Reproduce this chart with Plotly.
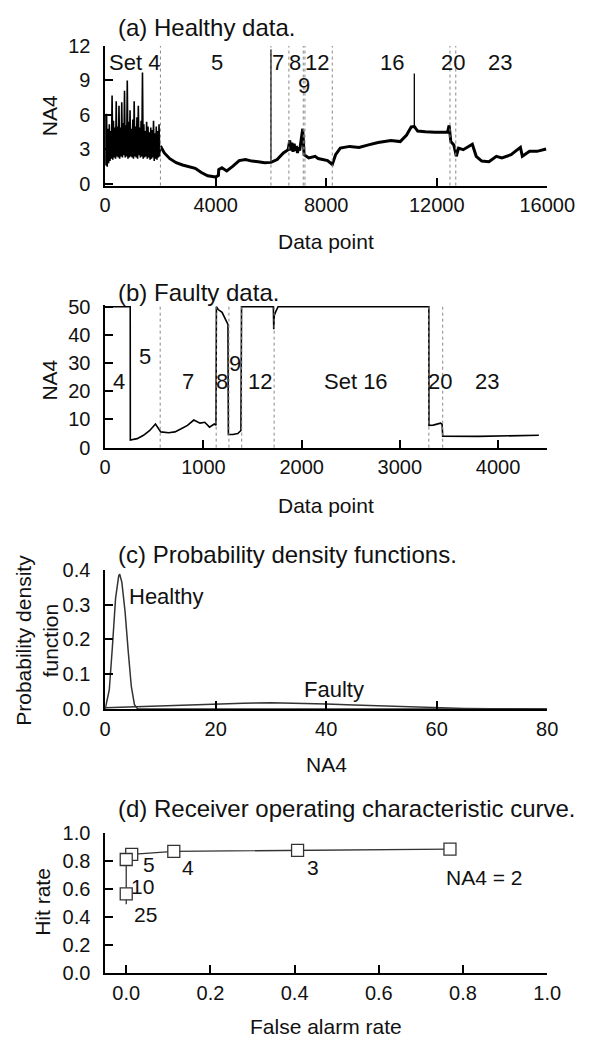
import plotly.graph_objects as go

# ---------------- data ----------------
# (a) healthy NA4, noisy first part (set 4): peaks and troughs every 50 points
noisy_hi = [6.0, 6.1, 4.8, 5.2, 4.6, 7.7, 5.5, 4.9, 7.2, 5.0,
            6.8, 4.9, 7.1, 5.3, 8.1, 5.1, 9.0, 5.4, 6.4, 4.8,
            5.6, 7.2, 5.0, 5.8, 6.8, 4.9, 5.5, 9.7, 5.2, 4.6,
            5.4, 5.0, 4.5, 4.9, 4.7, 5.5, 4.4, 5.0, 4.6, 5.2]
noisy_lo = [1.6, 1.5, 1.8, 2.0, 2.2, 2.1, 2.3, 2.2, 2.4, 2.3,
            2.2, 2.4, 2.3, 2.5, 2.3, 2.4, 2.2, 2.3, 2.4, 2.3,
            2.2, 2.4, 2.3, 2.2, 2.5, 2.3, 2.4, 2.2, 2.3, 2.4,
            2.2, 2.3, 2.1, 2.2, 2.3, 2.0, 2.2, 2.1, 2.3, 2.4]
healthy_x = [2000, 2140, 2340, 2570, 2800, 3030, 3260, 3480, 3710, 3940,
             4000, 4100, 4110, 4225, 4400, 4625, 4850, 5080, 5310, 5540,
             5770, 6000, 6225, 6450, 6625, 6680, 6720, 6760,
             6800, 6840, 6880, 6920, 6960, 7000, 7040, 7080, 7120, 7150,
             7200, 7370, 7600, 7710, 8050, 8220, 8340, 8510, 8850, 9190,
             9530, 9880, 10340, 10680, 10910, 11080, 11190, 11310, 11590,
             11930, 12390, 12450, 12510, 12620, 12710, 12790, 12960, 13290, 13430,
             13630, 13890, 14160, 14360, 14690, 15030, 15100, 15360, 15630, 15960]
healthy_y = [3.3, 2.7, 2.2, 1.85, 1.65, 1.48, 1.36, 1.0, 0.71, 0.63,
             0.6, 0.75, 1.25, 1.42, 1.14, 1.56, 2.04, 2.13, 1.99, 1.93,
             1.85, 1.88, 2.13, 2.7, 2.98, 3.8, 2.9, 3.6,
             2.8, 3.5, 2.9, 3.3, 2.7, 3.2, 2.9, 3.6, 4.2, 4.8,
             2.55, 2.27, 2.41, 2.21, 2.04, 1.70, 2.55, 3.12, 3.27, 3.18,
             3.40, 3.6, 3.78, 3.69, 4.26, 4.97, 5.0, 4.6, 4.54,
             4.49, 4.49, 5.1, 3.69, 3.40, 2.41, 3.12, 2.98, 3.45, 2.41,
             1.99, 1.93, 2.41, 2.27, 2.55, 3.18, 2.41, 2.84, 2.84, 3.04]
spike_x = [6000, 11190]
spike_base = [1.88, 5.0]
spike_top = [11.7, 9.6]
healthy_bounds = [2000, 6000, 6650, 7170, 7230, 8220, 12480, 12690]
healthy_sets = ["Set 4", "5", "7", "8", "9", "12", "16", "20", "23"]
healthy_set_x = [1076, 4040, 6245, 6885, 7180, 7685, 10395, 12585, 14295]
healthy_set_y = [10.6, 10.6, 10.6, 10.6, 8.6, 10.6, 10.6, 10.6, 10.6]

# (b) faulty NA4
faulty_x = [0, 255, 256, 326, 390, 454, 512, 543, 566, 646,
            710, 774, 838, 902, 966, 1014, 1062, 1110, 1128, 1132,
            1150, 1190, 1220, 1250, 1254, 1300, 1350, 1382, 1388, 1712,
            1716, 1722, 1740, 1760, 3295, 3296, 3340, 3414, 3430, 3436,
            3800, 4100, 4415]
faulty_y = [50, 50, 2.7, 3.2, 4.4, 6.1, 8.4, 6.7, 5.6, 5.3,
            5.6, 6.7, 7.9, 9.8, 8.7, 9.0, 7.3, 8.4, 8.0, 50,
            49, 48, 46, 43.7, 4.7, 4.7, 5.0, 6.1, 50, 50,
            42, 47, 48.5, 50, 50, 7.9, 8.0, 8.7, 8.3, 4.1,
            4.0, 4.1, 4.4]
faulty_bounds = [560, 1130, 1260, 1390, 1720, 3295, 3436]
faulty_sets = ["4", "5", "7", "8", "9", "12", "Set 16", "20", "23"]
faulty_set_x = [139, 408, 842, 1194, 1317, 1572, 2552, 3405, 3891]
faulty_set_y = [23.5, 32.2, 23.5, 23.5, 29.9, 23.5, 23.5, 23.5, 23.5]

# (c) probability density functions
pdf_h_x = [0, 0.74, 1.3, 1.88, 2.45, 2.63, 3.02, 3.6, 4.16, 4.73, 5.3, 5.9, 80]
pdf_h_y = [0, 0.055, 0.177, 0.318, 0.383, 0.387, 0.364, 0.28, 0.168, 0.065, 0.013, 0.0, 0.0]
pdf_f_x = [0, 5, 10, 15, 20, 25, 30, 35, 40, 45, 50, 55, 60, 65, 70, 75, 80]
pdf_f_y = [0.004, 0.007, 0.010, 0.013, 0.015, 0.017, 0.018, 0.017, 0.015,
           0.012, 0.009, 0.006, 0.004, 0.002, 0.001, 0.0005, 0.0]

# (d) ROC curve
roc_labels = ["NA4 = 2", "3", "4", "5", "10", "25"]
roc_far = [0.769, 0.407, 0.113, 0.013, 0.0, 0.0]
roc_hit = [0.883, 0.874, 0.867, 0.845, 0.809, 0.564]
roc_tail_hit = 0.49

# ---------------- layout helpers ----------------
W, H = 613, 1053
FONT = "Liberation Sans, Arial, sans-serif"
INK = "#111111"


def fy(p):
    return 1 - p / H


def fx(p):
    return p / W


XDOM = [fx(105), fx(573)]

fig = go.Figure()

# (a)
hx, hy = [], []
for i in range(len(noisy_hi)):
    hx += [i * 50, i * 50 + 25]
    hy += [noisy_hi[i], noisy_lo[i]]
fig.add_trace(go.Scatter(x=hx + healthy_x[:1], y=hy + healthy_y[:1], mode="lines",
                         line=dict(color="black", width=1.6), xaxis="x", yaxis="y"))
fig.add_trace(go.Scatter(x=healthy_x, y=healthy_y, mode="lines",
                         line=dict(color="black", width=3), xaxis="x", yaxis="y"))
sx, sy = [], []
for x, b, t in zip(spike_x, spike_base, spike_top):
    sx += [x, x, None]
    sy += [b, t, None]
fig.add_trace(go.Scatter(x=sx, y=sy, mode="lines",
                         line=dict(color="black", width=1.3), xaxis="x", yaxis="y"))
for b in healthy_bounds:
    fig.add_shape(type="line", x0=b, x1=b, y0=0, y1=1, xref="x", yref="y domain",
                  line=dict(color="#888888", width=1, dash="dot"))

# (b)
fig.add_trace(go.Scatter(x=faulty_x, y=faulty_y, mode="lines",
                         line=dict(color="black", width=1.6), xaxis="x2", yaxis="y2"))
for b in faulty_bounds:
    fig.add_shape(type="line", x0=b, x1=b, y0=0, y1=1, xref="x2", yref="y2 domain",
                  line=dict(color="#888888", width=1, dash="dot"))

# (c)
fig.add_trace(go.Scatter(x=pdf_h_x, y=pdf_h_y, mode="lines",
                         line=dict(color="#333333", width=1.5), xaxis="x3", yaxis="y3"))
fig.add_trace(go.Scatter(x=pdf_f_x, y=pdf_f_y, mode="lines",
                         line=dict(color="#333333", width=1.5), xaxis="x3", yaxis="y3"))

# (d)
fig.add_trace(go.Scatter(x=roc_far + [0.0], y=roc_hit + [roc_tail_hit], mode="lines",
                         line=dict(color="#333333", width=1.3), xaxis="x4", yaxis="y4"))
fig.add_trace(go.Scatter(x=roc_far, y=roc_hit, mode="markers",
                         marker=dict(symbol="square", size=12, color="white",
                                     line=dict(color="#333333", width=1.3)),
                         xaxis="x4", yaxis="y4"))

axis_common = dict(showline=True, linecolor="black", linewidth=1.5, ticks="inside",
                   ticklen=8, tickwidth=1.5, tickcolor="black", showgrid=False,
                   zeroline=False, tickfont=dict(family=FONT, size=20, color=INK))
xax = dict(axis_common, ticklabelstandoff=1)
yax = dict(axis_common, ticklabelstandoff=9)

fig.update_layout(
    width=W, height=H, margin=dict(l=0, r=0, t=0, b=0),
    paper_bgcolor="white", plot_bgcolor="white", showlegend=False, hovermode=False,
    font=dict(family=FONT, color=INK),
    xaxis=dict(domain=XDOM, anchor="y", range=[0, 16000], tickvals=[0, 4000, 8000, 12000, 16000],
               tickformat="d", **xax),
    yaxis=dict(domain=[fy(178.3), fy(35.7)], anchor="x", range=[-0.136, 12], tickvals=[0, 3, 6, 9, 12], **yax),
    xaxis2=dict(domain=XDOM, anchor="y2", range=[0, 4500], tickvals=[0, 1000, 2000, 3000, 4000],
                tickformat="d", **xax),
    yaxis2=dict(domain=[fy(446), fy(300.3)], anchor="x2", range=[0, 50.6], tickvals=[0, 10, 20, 30, 40, 50], **yax),
    xaxis3=dict(domain=XDOM, anchor="y3", range=[0, 80], tickvals=[0, 20, 40, 60, 80], **xax),
    yaxis3=dict(domain=[fy(713), fy(570.7)], anchor="x3", range=[0, 0.4], tickvals=[0, 0.1, 0.2, 0.3, 0.4],
                tickformat=".1f", **yax),
    xaxis4=dict(domain=XDOM, anchor="y4", range=[-0.05, 1.0], tickvals=[0, 0.2, 0.4, 0.6, 0.8, 1.0],
                tickformat=".1f", **xax),
    yaxis4=dict(domain=[fy(982.3), fy(839.3)], anchor="x4", range=[0, 1.0], tickvals=[0, 0.2, 0.4, 0.6, 0.8, 1.0],
                tickformat=".1f", **yax),
)

ann = []


def paper_text(text, x, y, size, xanchor="center", angle=0):
    ann.append(dict(text=text, x=fx(x), y=fy(y), xref="paper", yref="paper", showarrow=False,
                    xanchor=xanchor, yanchor="middle", textangle=angle,
                    font=dict(family=FONT, size=size, color=INK)))


def data_text(text, x, y, ax, size=22):
    ann.append(dict(text=text, x=x, y=y, xref="x" + ax, yref="y" + ax, showarrow=False,
                    xanchor="center", yanchor="middle",
                    font=dict(family=FONT, size=size, color=INK)))


# panel titles
paper_text("(a) Healthy data.", 116, 17, 24, "left")
paper_text("(b) Faulty data.", 116, 287, 24, "left")
paper_text("(c) Probability density functions.", 116, 555, 24, "left")
paper_text("(d) Receiver operating characteristic curve.", 116, 815, 24, "left")

# axis titles
paper_text("Data point", 339, 235, 21)
paper_text("NA4", 46, 107, 21, angle=-90)
paper_text("Data point", 339, 505, 21)
paper_text("NA4", 46, 377, 21, angle=-90)
paper_text("NA4", 339, 770, 21)
paper_text("Probability density<br>function", 32, 643, 21, angle=-90)
paper_text("False alarm rate", 339, 1037, 21)
paper_text("Hit rate", 39, 910, 21, angle=-90)

# set labels
for t, x, y in zip(healthy_sets, healthy_set_x, healthy_set_y):
    data_text(t, x, y, "")
for t, x, y in zip(faulty_sets, faulty_set_x, faulty_set_y):
    data_text(t, x, y, "2")
data_text("Healthy", 11.1, 0.322, "3")
data_text("Faulty", 41.4, 0.055, "3")

# ROC threshold labels
roc_lab_x = [0.85, 0.443, 0.146, 0.054, 0.039, 0.046]
roc_lab_y = [0.68, 0.75, 0.75, 0.77, 0.615, 0.413]
for t, x, y in zip(roc_labels, roc_lab_x, roc_lab_y):
    data_text(t, x, y, "4", size=21)

fig.update_layout(annotations=ann)

fig.write_html("out.html", config={"displayModeBar": False},
               post_script="document.body.style.margin='0';")
